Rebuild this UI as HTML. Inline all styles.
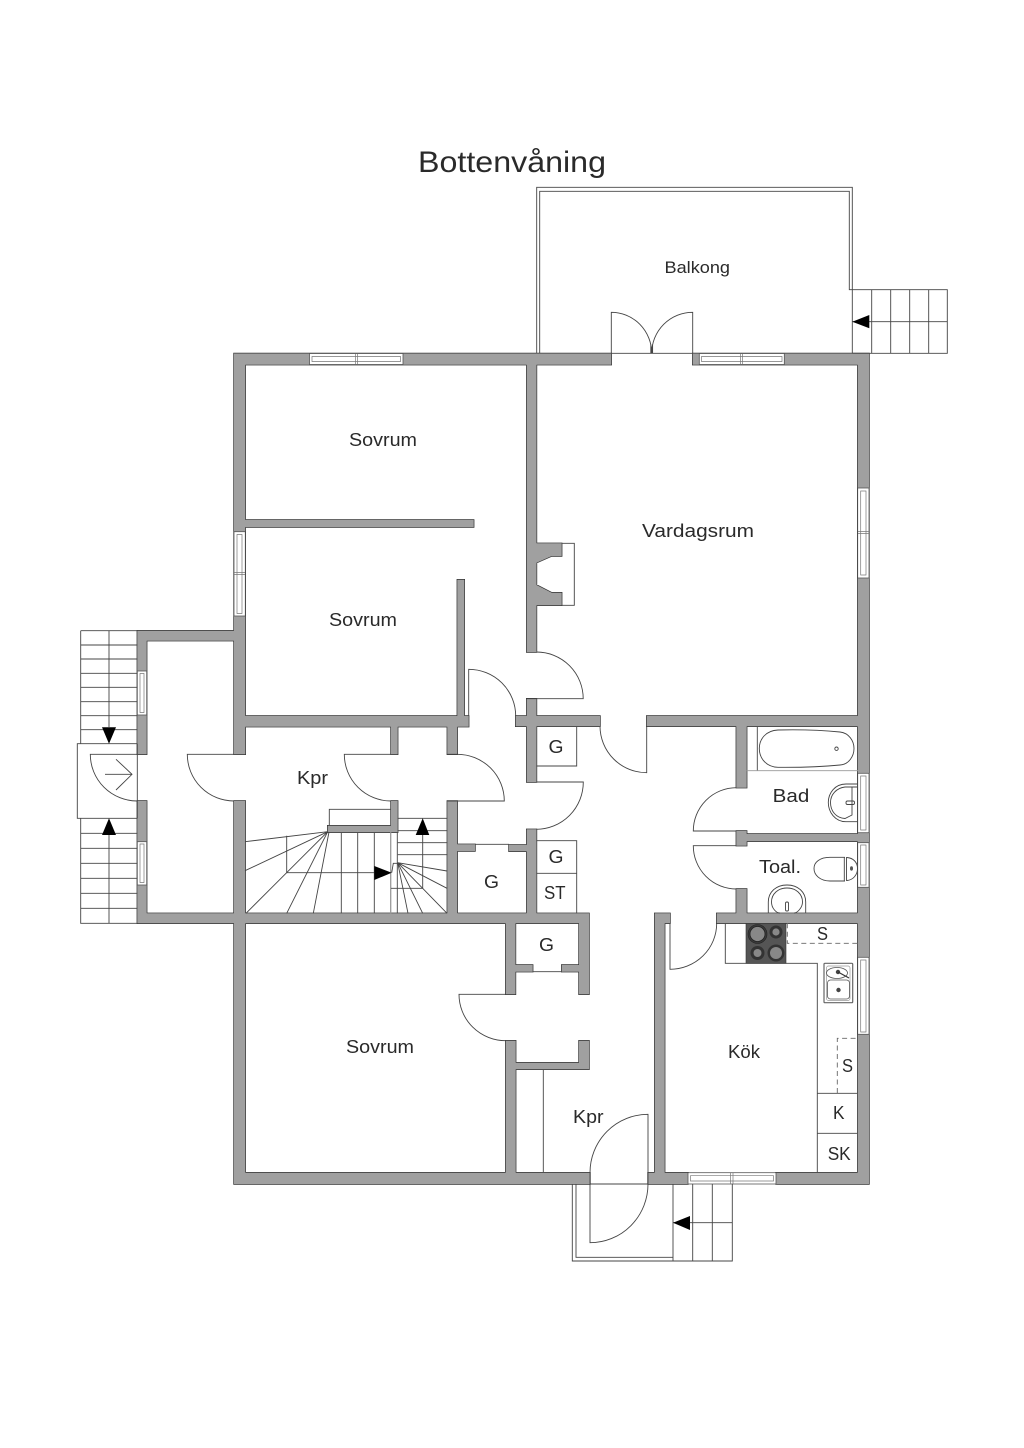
<!DOCTYPE html>
<html><head><meta charset="utf-8"><style>
html,body{margin:0;padding:0;background:#fff}
svg{display:block}
text{font-family:"Liberation Sans",sans-serif;fill:#2a2a2a;text-anchor:start}
.l{fill:none;stroke:#444;stroke-width:.9}
.d{fill:#fff;stroke:#444;stroke-width:.9}
.w{fill:#fff;stroke:#555;stroke-width:.8}
.p{fill:none;stroke:#777;stroke-width:.7}
.a{fill:#000;stroke:none}
.dash{fill:none;stroke:#666;stroke-width:.9;stroke-dasharray:5 3.5}
</style></head><body>
<svg width="1024" height="1448" viewBox="0 0 1024 1448" xmlns="http://www.w3.org/2000/svg">
<rect width="1024" height="1448" fill="#fff"/>

<!-- walls outline then fill -->
<path id="outline" fill="#333" stroke="#333" stroke-width="1.4" d="M234 353.5H611.3V364.7H234Z M692.7 353.5H869V364.7H692.7Z M234 353.5H245.3V754.3H234Z M234 801H245.3V1184H234Z M857.7 353.5H869V1184H857.7Z M234 1172.7H590V1184H234Z M648 1172.7H688V1184H648Z M776 1172.7H869V1184H776Z M526.7 353.5H536.5V652H526.7Z M526.7 698.7H536.5V782H526.7Z M526.7 829.3H536.5V923H526.7Z M245 520H473.7V527H245Z M457.3 579.7H464.3V726H457.3Z M245 716H468.7V726.7H245Z M515.7 716H600V726.3H515.7Z M646.7 716H869V726.3H646.7Z M736.3 726H746.7V787.7H736.3Z M736.3 831H746.7V845.7H736.3Z M736.3 889H746.7V913.3H736.3Z M746 834H858V841.3H746Z M137.3 630.7H234V640.7H137.3Z M137.3 630.7H146.7V754.3H137.3Z M137.3 801H146.7V923.3H137.3Z M137.3 913.3H589V923.3H137.3Z M391 726H397.7V754.3H391Z M391 801H397.7V832.3H391Z M327.7 825.7H397.7V832.3H327.7Z M447.3 726H457.3V754.3H447.3Z M447.3 801H457.3V923H447.3Z M457.3 844.3H475V851H457.3Z M509 845H526.7V851.3H509Z M505.7 923H515.5V994.3H505.7Z M579 923H589V994.3H579Z M515 965H532.7V971.7H515Z M561.7 965H579V971.7H561.7Z M505.7 1040.7H515.7V1184H505.7Z M579 1040.7H589V1069.3H579Z M515.7 1062.7H589V1069.3H515.7Z M654.7 913.3H664.7V1184H654.7Z M654.7 913.3H670V923.3H654.7Z M716.7 913.3H869V923.3H716.7Z M536 543.3H561.7V556H551.7L536.5 562.7H536Z M536 585H536.5L551.7 592.7H561.7V605.3H536Z"/>
<path fill="#a0a0a0" d="M234 353.5H611.3V364.7H234Z M692.7 353.5H869V364.7H692.7Z M234 353.5H245.3V754.3H234Z M234 801H245.3V1184H234Z M857.7 353.5H869V1184H857.7Z M234 1172.7H590V1184H234Z M648 1172.7H688V1184H648Z M776 1172.7H869V1184H776Z M526.7 353.5H536.5V652H526.7Z M526.7 698.7H536.5V782H526.7Z M526.7 829.3H536.5V923H526.7Z M245 520H473.7V527H245Z M457.3 579.7H464.3V726H457.3Z M245 716H468.7V726.7H245Z M515.7 716H600V726.3H515.7Z M646.7 716H869V726.3H646.7Z M736.3 726H746.7V787.7H736.3Z M736.3 831H746.7V845.7H736.3Z M736.3 889H746.7V913.3H736.3Z M746 834H858V841.3H746Z M137.3 630.7H234V640.7H137.3Z M137.3 630.7H146.7V754.3H137.3Z M137.3 801H146.7V923.3H137.3Z M137.3 913.3H589V923.3H137.3Z M391 726H397.7V754.3H391Z M391 801H397.7V832.3H391Z M327.7 825.7H397.7V832.3H327.7Z M447.3 726H457.3V754.3H447.3Z M447.3 801H457.3V923H447.3Z M457.3 844.3H475V851H457.3Z M509 845H526.7V851.3H509Z M505.7 923H515.5V994.3H505.7Z M579 923H589V994.3H579Z M515 965H532.7V971.7H515Z M561.7 965H579V971.7H561.7Z M505.7 1040.7H515.7V1184H505.7Z M579 1040.7H589V1069.3H579Z M515.7 1062.7H589V1069.3H515.7Z M654.7 913.3H664.7V1184H654.7Z M654.7 913.3H670V923.3H654.7Z M716.7 913.3H869V923.3H716.7Z M536 543.3H561.7V556H551.7L536.5 562.7H536Z M536 585H536.5L551.7 592.7H561.7V605.3H536Z"/>

<!-- fireplace box -->
<path class="l" d="M561.7 543.3H574.3V605.3H561.7"/>

<!-- windows: horizontal -->
<g>
<rect class="w" x="309.5" y="353.5" width="93.5" height="11"/><path class="p" d="M312 356.5H400.5V361.5H312ZM355.5 354V364M357.5 354V364"/>
<rect class="w" x="699.3" y="353.5" width="85" height="11"/><path class="p" d="M701.5 356.5H782V361.5H701.5ZM740.5 354V364M742.5 354V364"/>
<rect class="w" x="688" y="1172.7" width="88" height="11.3"/><path class="p" d="M690.5 1175.7H773.5V1181H690.5ZM730.5 1173V1184M733 1173V1184"/>
</g>
<!-- windows: vertical -->
<g>
<rect class="w" x="234" y="531.7" width="11.3" height="84.3"/><path class="p" d="M237 534.5V613.5H242V534.5ZM234.5 572.5H245M234.5 574.5H245"/>
<rect class="w" x="857.7" y="488" width="11.3" height="90"/><path class="p" d="M860.7 491V575H866V491ZM858 531.5H869M858 533.5H869"/>
<rect class="w" x="137.3" y="671" width="9.4" height="44"/><path class="p" d="M140 673.5V712.5H144V673.5Z"/>
<rect class="w" x="137.3" y="841.7" width="9.4" height="43.3"/><path class="p" d="M140 844V882.5H144V844Z"/>
<rect class="w" x="857.7" y="773.3" width="11.3" height="59.4"/><path class="p" d="M860.7 776V830H866V776Z"/>
<rect class="w" x="857.7" y="842.7" width="11.3" height="44.6"/><path class="p" d="M860.7 845V885H866V845Z"/>
<rect class="w" x="857.7" y="957.3" width="11.3" height="77"/><path class="p" d="M860.7 960V1032H866V960Z"/>
</g>

<!-- balcony -->
<path class="l" d="M536.7 353.3V187.3H852.3V289.7M539.7 353.3V191.3H849.3V289.7H947.3V353.3H852.3M852.3 289.7V353.3"/>
<path class="l" d="M871.7 289.7V353.3M890.7 289.7V353.3M909.7 289.7V353.3M928.7 289.7V353.3M852.3 321.7H947.3"/>
<polygon class="a" points="852.3,321.7 869.3,315 869.3,328.3"/>
<path class="l" d="M611.3 353.3V312.3A40.4 41 0 0 1 651.7 353.3M692.7 353.3V312.3A41 41 0 0 0 651.7 353.3M650.8 353V344M652.6 353V344M611.3 353.3H692.7"/>

<!-- doors -->
<g class="l">
<path class="l" d="M536.5 652A46.7 46.7 0 0 1 583.2 698.7H526.7"/>
<path class="l" d="M468.7 716V669.3A47 46.7 0 0 1 515.7 716"/>
<path class="l" d="M600 726.3A46.7 46.7 0 0 0 646.7 772.7V726.3"/>
<path class="l" d="M536.3 782H583.3A47 47.3 0 0 1 536.3 829.3"/>
<path class="l" d="M457.3 754.3A47 46.7 0 0 1 504.3 801H447.3"/>
<path class="l" d="M447.3 754.3H457.3"/>
<path class="l" d="M234 754.3H187.3A46.7 46.7 0 0 0 234 801"/>
<path class="l" d="M391 754.3H344.3A46.7 46.7 0 0 0 391 801"/>
<path class="l" d="M137.3 754.3H90.3A47 46.7 0 0 0 137.3 801"/>
<path class="l" d="M736.3 787.7A43 43.3 0 0 0 693.3 831H736.3"/>
<path class="l" d="M736.3 845.7H693.3A43 43.3 0 0 0 736.3 889"/>
<path class="l" d="M670 923.3V969.3A46.7 46 0 0 0 716.7 923.3"/>
<path class="l" d="M505.7 994.3H459A46.7 46.4 0 0 0 505.7 1040.7"/>
<path class="l" d="M648 1172.7V1114.3A58 58.4 0 0 0 590 1172.7V1242.7A58 58.7 0 0 0 648 1184V1172.7M590 1184H648"/>
<path class="l" d="M475 844.3H509M532.7 971.7H561.7"/>
</g>

<!-- entrance platform + stair -->
<path class="l" d="M572.3 1184V1261H732.3V1184M576 1184V1257.3H673M673 1184V1261M692.7 1184V1261M712.3 1184V1261M673 1222.7H732.3"/>
<polygon class="a" points="673,1222.7 690,1216 690,1230"/>

<!-- west entry -->
<path class="l" d="M137.3 743.7H77.3V818.3H137.3M137.3 743.7V818.3"/>
<path class="l" d="M105 774.3H132M116 759.3L132 774.3L116 790"/>
<path class="l" d="M80.7 630.7H137.3M80.7 630.7V743.7M109 630.7V727M80.7 645H137.3M80.7 659H137.3M80.7 673.3H137.3M80.7 687.3H137.3M80.7 701.7H137.3M80.7 715.7H137.3M80.7 729.7H137.3"/>
<path class="l" d="M80.7 818.3V923.3H137.3M109 835V923.3M80.7 833.3H137.3M80.7 848.3H137.3M80.7 863.3H137.3M80.7 878.3H137.3M80.7 893.3H137.3M80.7 908.3H137.3"/>
<polygon class="a" points="109,743.7 102,727.3 116,727.3"/>
<polygon class="a" points="109,818.3 102,835 116,835"/>

<!-- interior stair -->
<path class="l" d="M329.3 825.7V809.3H391"/>
<path class="l" d="M327.7 831.7L245 841.7M327.7 831.7L245 870.7M327.7 831.7L246 913.3M327.7 831.7L286.7 913.3M329 832L313.3 913.3"/>
<path class="l" d="M341.3 832.3V913.3M357.7 832.3V913.3M374.3 832.3V913.3M397.3 832.3V913.3"/>
<path d="M390.7 832.3V913.3" fill="none" stroke="#999" stroke-width="1.3"/>
<path class="l" d="M286.7 835.7V872.7H374.3"/>
<polygon class="a" points="391.7,872.7 374.3,866 374.3,880"/>
<path class="l" d="M391.7 872.7L393.3 863.3H397.3"/>
<path class="l" d="M397.7 862.7L447 871M397.7 862.7L447 888.3M397.7 862.7L447 913.3M397.7 862.7L422.7 913.3M397.7 862.7L408 913.3"/>
<path class="l" d="M397.7 818.3H447.3M397.7 830.7H447.3M397.7 842.7H447.3M397.7 854.7H447.3M391 888.3H422.7V835"/>
<polygon class="a" points="422.7,818.3 415.7,835 429.3,835"/>

<!-- closets -->
<path class="l" d="M536.3 766H576.7V726.3M536.3 840.7H576.7V913.3M536.3 873.3H576.7"/>
<path class="l" d="M543.3 1069.3V1172.7"/>

<!-- bathroom -->
<path class="l" d="M757.3 726.3V770.7"/>
<path d="M746.7 770.7H858" fill="none" stroke="#999" stroke-width=".8"/>
<path class="l" d="M778 730C800 729.5 825 730.5 840 732C849 733 854 741 854 748.5C854 756 849 764.5 840 765C825 766.5 800 767.5 778 767.3C766 767 759.3 758 759.3 748.5C759.3 739 766 730.5 778 730Z"/>
<circle class="l" cx="836.5" cy="748.7" r="1.7"/>
<path class="l" d="M858 784H846C835 784 828.3 793 828.3 802.5C828.3 812 835 821.7 846 821.7H858"/>
<path class="l" d="M857 787H845C836 788 830.5 795 830.5 802.5C830.5 811 836 818 845 818.5L852 815V787"/>
<rect class="l" x="846" y="801" width="8.5" height="3.5" rx="1.5"/>
<!-- toilet -->
<path class="l" d="M845 857.3H830C820 857.3 814 862 814 868.5C814 875 820 881 830 881H845"/>
<path class="l" d="M844.3 857V881M846.5 857V881"/>
<path class="l" d="M847 857.5C853 858 857.5 862 857.5 868.5C857.5 875 853 880 847 880.5"/>
<ellipse cx="851.5" cy="868.5" rx="1.5" ry="2.2" fill="#555"/>
<!-- toilet room basin -->
<path class="l" d="M768.3 913V902C768.3 892 776 885 787 885C798 885 805.7 892 805.7 902V913"/>
<path class="l" d="M771.5 902C771.5 894 778 888 787 888C796 888 802.5 894 802.5 902C802.5 908 797 913 794 913M771.5 902C771.5 908 776 913 780 913"/>
<rect class="l" x="785.5" y="902" width="3" height="9" rx="1.3"/>

<!-- kitchen -->
<path class="l" d="M725.3 923.3V963.3H817.3V1172.7M817.3 1093.3H857.7M817.3 1133.3H857.7"/>
<rect x="746" y="923.3" width="40" height="40" fill="#555" stroke="#333" stroke-width=".6"/>
<g>
<circle cx="757.5" cy="934" r="9.5" fill="#3a3a3a" stroke="#222" stroke-width=".6"/><circle cx="757.5" cy="934" r="7.5" fill="#888" stroke="#222" stroke-width=".8"/>
<circle cx="776" cy="932" r="6.5" fill="#333"/><circle cx="776" cy="932" r="3.6" fill="#888"/>
<circle cx="757.5" cy="953" r="7" fill="#333"/><circle cx="757.5" cy="953" r="4" fill="#888"/>
<circle cx="776" cy="953" r="8.5" fill="#333"/><circle cx="776" cy="953" r="6" fill="#888"/>
</g>
<path class="dash" d="M787.3 923.3V943.3H858"/>
<path class="dash" d="M837.3 1093V1038.3H858"/>
<!-- sink -->
<rect x="824" y="963.3" width="28.7" height="39.4" rx="1" fill="#fff" stroke="#666" stroke-width="1.2"/>
<rect x="826.5" y="966" width="23.5" height="34.5" rx="2" fill="none" stroke="#999" stroke-width=".7"/>
<ellipse cx="837" cy="973" rx="10.5" ry="5.5" fill="#fff" stroke="#555" stroke-width=".8"/>
<rect x="827.5" y="980" width="22" height="19" rx="3" fill="#fff" stroke="#555" stroke-width=".8"/>
<circle cx="838" cy="972" r="2.2" fill="#444"/>
<circle cx="838.5" cy="990" r="2.2" fill="#444"/>
<path d="M838 972L849 978" stroke="#333" stroke-width="1.2" fill="none"/>

<!-- labels -->
<text x="418" y="172" font-size="30" textLength="188" lengthAdjust="spacingAndGlyphs">Bottenvåning</text>
<text x="664.5" y="273" font-size="17" textLength="65.5" lengthAdjust="spacingAndGlyphs">Balkong</text>
<text x="349" y="446" font-size="18.5" textLength="68" lengthAdjust="spacingAndGlyphs">Sovrum</text>
<text x="329" y="626" font-size="18.5" textLength="68" lengthAdjust="spacingAndGlyphs">Sovrum</text>
<text x="346" y="1053" font-size="18.5" textLength="68" lengthAdjust="spacingAndGlyphs">Sovrum</text>
<text x="642" y="537" font-size="18.5" textLength="112" lengthAdjust="spacingAndGlyphs">Vardagsrum</text>
<text x="297" y="784" font-size="18.5" textLength="31" lengthAdjust="spacingAndGlyphs">Kpr</text>
<text x="573" y="1123" font-size="18.5" textLength="30.5" lengthAdjust="spacingAndGlyphs">Kpr</text>
<text x="772.7" y="802" font-size="18.5" textLength="36.6" lengthAdjust="spacingAndGlyphs">Bad</text>
<text x="759" y="873" font-size="18.5" textLength="42" lengthAdjust="spacingAndGlyphs">Toal.</text>
<text x="728" y="1058" font-size="18.5" textLength="32" lengthAdjust="spacingAndGlyphs">Kök</text>
<text x="548.5" y="753" font-size="18.5" textLength="15" lengthAdjust="spacingAndGlyphs">G</text>
<text x="548.5" y="863" font-size="18.5" textLength="15" lengthAdjust="spacingAndGlyphs">G</text>
<text x="544" y="899" font-size="18.5" textLength="21.5" lengthAdjust="spacingAndGlyphs">ST</text>
<text x="484" y="888" font-size="18.5" textLength="15" lengthAdjust="spacingAndGlyphs">G</text>
<text x="539" y="951" font-size="18.5" textLength="15" lengthAdjust="spacingAndGlyphs">G</text>
<text x="817" y="940" font-size="18.5" textLength="11" lengthAdjust="spacingAndGlyphs">S</text>
<text x="842" y="1072" font-size="18.5" textLength="11" lengthAdjust="spacingAndGlyphs">S</text>
<text x="833" y="1119" font-size="18.5" textLength="11.5" lengthAdjust="spacingAndGlyphs">K</text>
<text x="827.7" y="1160" font-size="18.5" textLength="23" lengthAdjust="spacingAndGlyphs">SK</text>
</svg>
</body></html>
